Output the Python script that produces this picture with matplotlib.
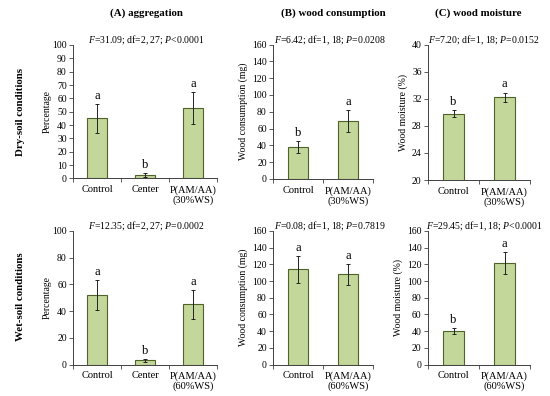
import matplotlib
matplotlib.use("Agg")
import matplotlib.pyplot as plt
import numpy as np

plt.rcParams['font.family'] = ['Liberation Serif', 'DejaVu Serif']
plt.rcParams['mathtext.fontset'] = 'custom'
plt.rcParams['mathtext.it'] = 'Liberation Serif:italic'
plt.rcParams['mathtext.rm'] = 'Liberation Serif'

# data
cats_agg = ['Control', 'Center', 'P(AM/AA)\n(30%WS)']
cats_agg_wet = ['Control', 'Center', 'P(AM/AA)\n(60%WS)']
cats_two = ['Control', 'P(AM/AA)\n(30%WS)']
cats_two_wet = ['Control', 'P(AM/AA)\n(60%WS)']

agg_dry = [45, 2.5, 53]
agg_dry_err = [11, 1.5, 12]
agg_dry_lett = ['a', 'b', 'a']
cons_dry = [38, 69]
cons_dry_err = [7.5, 13]
cons_dry_lett = ['b', 'a']
moist_dry = [29.8, 32.2]
moist_dry_err = [0.5, 0.7]
moist_dry_lett = ['b', 'a']

agg_wet = [52, 3, 45]
agg_wet_err = [11, 1, 11]
agg_wet_lett = ['a', 'b', 'a']
cons_wet = [114, 108]
cons_wet_err = [16, 12.5]
cons_wet_lett = ['a', 'a']
moist_wet = [40.5, 121.5]
moist_wet_err = [3.5, 13.5]
moist_wet_lett = ['b', 'a']

stats = [
    [r'$F$=31.09; df=2, 27; $P$<0.0001', r'$F$=6.42; df=1, 18; $P$=0.0208', r'$F$=7.20; df=1, 18; $P$=0.0152'],
    [r'$F$=12.35; df=2, 27; $P$=0.0002', r'$F$=0.08; df=1, 18; $P$=0.7819', r'$F$=29.45; df=1, 18; $P$<0.0001'],
]

W, H = 550, 396
fig = plt.figure(figsize=(5.5, 3.96), dpi=100)

face = '#c4d79b'
edge = '#4f6228'
spine_col = '#404040'

def px_axes(x0, x1, ytop, ybot):
    return fig.add_axes([x0 / W, 1 - ybot / H, (x1 - x0) / W, (ybot - ytop) / H])

def panel(ax, cats, vals, errs, letters, ylim, yticks, ylabel, off, lpad=3):
    x = np.arange(len(cats))
    ax.bar(x, vals, width=0.42 if len(cats) == 3 else 0.4, color=face,
           edgecolor=edge, linewidth=0.8, zorder=2)
    ax.errorbar(x, vals, yerr=errs, fmt='none', ecolor='#222222',
                elinewidth=0.7, capsize=1.5, capthick=0.7, zorder=3)
    for xi, v, e, l in zip(x, vals, errs, letters):
        ax.text(xi, v + e + off, l, ha='center', va='bottom', fontsize=9)
    ax.set_xlim(-0.5, len(cats) - 0.5)
    ax.set_ylim(*ylim)
    ax.set_yticks(yticks)
    ax.set_xticks(x)
    ax.set_xticklabels(cats, fontsize=7.5, linespacing=1.05)
    ax.set_xticks(np.arange(len(cats) + 1) - 0.5, minor=True)
    ax.tick_params(axis='x', which='major', length=0, pad=5)
    ax.tick_params(axis='x', which='minor', length=3, width=0.6, color=spine_col)
    ax.tick_params(axis='y', length=3, width=0.6, color=spine_col, labelsize=7, pad=1.5)
    for s in ['top', 'right']:
        ax.spines[s].set_visible(False)
    for s in ['left', 'bottom']:
        ax.spines[s].set_color(spine_col)
        ax.spines[s].set_linewidth(0.7)
    ax.set_ylabel(ylabel, fontsize=7, labelpad=lpad)

# top row
axA = px_axes(73, 217, 45, 178.5)
panel(axA, cats_agg, agg_dry, agg_dry_err, agg_dry_lett, (0, 100), np.arange(0, 101, 10), 'Percentage', 1.5, lpad=0)
axB = px_axes(273, 373, 44.5, 179)
panel(axB, cats_two, cons_dry, cons_dry_err, cons_dry_lett, (0, 160), np.arange(0, 161, 20), 'Wood consumption (mg)', 2.5)
axC = px_axes(428, 530, 44.5, 180)
panel(axC, cats_two, moist_dry, moist_dry_err, moist_dry_lett, (20, 40), np.arange(20, 41, 4), 'Wood moisture (%)', 0.4)

# bottom row
axD = px_axes(73, 217, 231, 364.5)
panel(axD, cats_agg_wet, agg_wet, agg_wet_err, agg_wet_lett, (0, 100), np.arange(0, 101, 20), 'Percentage', 1.5, lpad=0)
axE = px_axes(273, 373, 231, 364.5)
panel(axE, cats_two_wet, cons_wet, cons_wet_err, cons_wet_lett, (0, 160), np.arange(0, 161, 20), 'Wood consumption (mg)', 2.5)
axF = px_axes(428, 530, 231, 364.5)
panel(axF, cats_two_wet, moist_wet, moist_wet_err, moist_wet_lett, (0, 160), np.arange(0, 161, 20), 'Wood moisture (%)', 2.5)

# column titles
for xc, t in zip([146, 333, 478], ['(A) aggregation', '(B) wood consumption', '(C) wood moisture']):
    fig.text(xc / W, 1 - 13 / H, t, ha='center', va='center', fontsize=7.8, fontweight='bold')

# stats lines
for row, yc in zip(stats, [40, 226]):
    for xc, t in zip([146, 330, 484], row):
        fig.text(xc / W, 1 - yc / H, t, ha='center', va='center', fontsize=7)

# row labels
fig.text(21 / W, 1 - 112 / H, 'Dry-soil conditions', rotation=90, ha='center', va='center',
         fontsize=7.8, fontweight='bold')
fig.text(21 / W, 1 - 297 / H, 'Wet-soil conditions', rotation=90, ha='center', va='center',
         fontsize=7.8, fontweight='bold')

fig.savefig('out.png', dpi=100)
